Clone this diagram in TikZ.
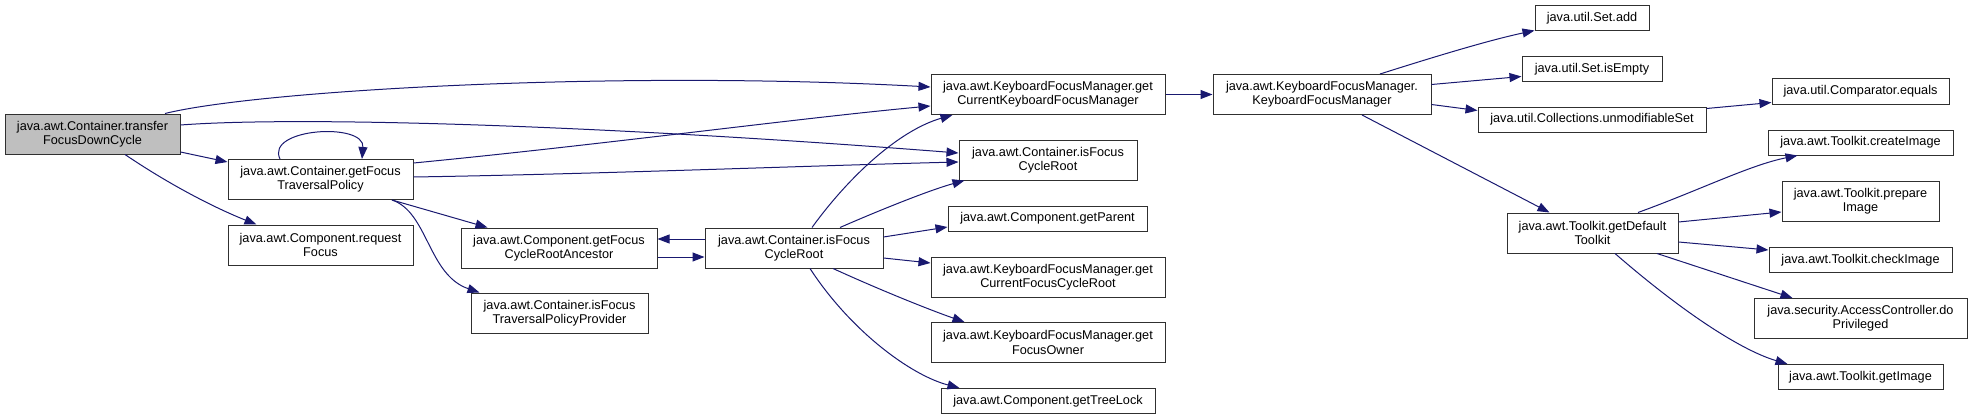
\documentclass[tikz,border=0pt]{standalone}
\usepackage{fontspec}
\newfontfamily\callfont{Liberation Sans}
\usetikzlibrary{arrows.meta,calc}
\definecolor{azulNoche}{HTML}{191970}
\definecolor{grisRaiz}{HTML}{BFBFBF}
\definecolor{bordeNodo}{HTML}{303030}

\begin{document}
\begin{tikzpicture}[x=1pt,y=-1pt,>={Triangle[length=12pt,width=9pt]},
    fn/.style={draw=bordeNodo,line width=1pt,fill=white,inner sep=0pt,
      minimum height=40,align=center,
      font=\callfont\fontsize{12.7}{14.3}\selectfont},
    fnone/.style={fn,minimum height=25},
    raiz/.style={fn,fill=grisRaiz},
    call/.style={azulNoche,line width=1pt,->}]
  \useasboundingbox (0,0) rectangle (1976,420);
  % nodes, column by column
  \node[raiz,minimum width=175] (tfdc) at (92.5,134)
    {java.awt.Container.transfer\\FocusDownCycle};
  \node[fn,minimum width=185] (gftp) at (320.5,179.5)
    {java.awt.Container.getFocus\\TraversalPolicy};
  \node[fn,minimum width=185] (rf) at (320.5,245)
    {java.awt.Component.request\\Focus};
  \node[fn,minimum width=196] (gfcra) at (559,248)
    {java.awt.Component.getFocus\\CycleRootAncestor};
  \node[fn,minimum width=177] (iftpp) at (559.5,313)
    {java.awt.Container.isFocus\\TraversalPolicyProvider};
  \node[fn,minimum width=178] (ifcr2) at (794,248)
    {java.awt.Container.isFocus\\CycleRoot};
  \node[fn,minimum width=234] (gckfm) at (1048,94.5)
    {java.awt.KeyboardFocusManager.get\\CurrentKeyboardFocusManager};
  \node[fn,minimum width=178] (ifcr1) at (1048,160)
    {java.awt.Container.isFocus\\CycleRoot};
  \node[fnone,minimum width=199] (gpar) at (1047.5,218.5)
    {java.awt.Component.getParent};
  \node[fn,minimum width=234] (gcfcr) at (1048,277)
    {java.awt.KeyboardFocusManager.get\\CurrentFocusCycleRoot};
  \node[fn,minimum width=234] (gfo) at (1048,342.5)
    {java.awt.KeyboardFocusManager.get\\FocusOwner};
  \node[fnone,minimum width=214] (gtl) at (1048,401)
    {java.awt.Component.getTreeLock};
  \node[fn,minimum width=218] (kfm) at (1322,94.5)
    {java.awt.KeyboardFocusManager.\\KeyboardFocusManager};
  \node[fnone,minimum width=114] (sadd) at (1592,18.5) {java.util.Set.add};
  \node[fnone,minimum width=140] (sempty) at (1592,69.5) {java.util.Set.isEmpty};
  \node[fnone,minimum width=228] (uset) at (1592,119.5)
    {java.util.Collections.unmodifiableSet};
  \node[fn,minimum width=171] (gdt) at (1592.5,233)
    {java.awt.Toolkit.getDefault\\Toolkit};
  \node[fnone,minimum width=177] (ceq) at (1860.5,91.5)
    {java.util.Comparator.equals};
  \node[fnone,minimum width=185] (cimg) at (1860.5,142.5)
    {java.awt.Toolkit.createImage};
  \node[fn,minimum width=157] (pimg) at (1860.5,201.5)
    {java.awt.Toolkit.prepare\\Image};
  \node[fnone,minimum width=183] (chimg) at (1860.5,260)
    {java.awt.Toolkit.checkImage};
  \node[fn,minimum width=213] (dopr) at (1860.5,318.5)
    {java.security.AccessController.do\\Privileged};
  \node[fnone,minimum width=165] (gimg) at (1860.5,377)
    {java.awt.Toolkit.getImage};
  % calls out of transferFocusDownCycle
  \draw[call] ($(tfdc.north)+(72.5,0)$) .. controls (260,90) and (620,70)
    .. ($(gckfm.west)+(0,-7.5)$);
  \draw[call] ($(tfdc.east)+(0,-9)$) .. controls (300,116) and (600,125)
    .. ($(ifcr1.west)+(0,-7)$);
  \draw[call] ($(tfdc.east)+(0,18)$) -- ($(gftp.west)+(0,-17.5)$);
  \draw[call] ($(tfdc.south)+(32.5,0)$) .. controls (170,185) and (215,208)
    .. ($(rf.north west)+(29,0)$);
  % getFocusTraversalPolicy
  \draw[call] ($(gftp.north)+(-40.5,0)$) .. controls (265,128) and (365,122)
    .. ($(gftp.north)+(41.5,0)$);
  \draw[call] ($(gftp.east)+(0,-16.5)$) .. controls (600,145) and (800,118)
    .. ($(gckfm.west)+(0,11.5)$);
  \draw[call] ($(gftp.east)+(0,-2.5)$) .. controls (600,174) and (800,166)
    .. ($(ifcr1.west)+(0,2)$);
  \draw[call] ($(gftp.south)+(71.5,0)$) -- ($(gfcra.north west)+(27,0)$);
  \draw[call] ($(gftp.south)+(71.5,0)$) .. controls (428,212) and (428,275)
    .. ($(iftpp.north west)+(9,0)$);
  % isFocusCycleRoot and its ancestor
  \draw[call] ($(ifcr2.west)+(0,-9)$) -- ($(gfcra.east)+(0,-9)$);
  \draw[call] ($(gfcra.east)+(0,9)$) -- ($(ifcr2.west)+(0,9)$);
  \draw[call] ($(ifcr2.north)+(18,0)$) .. controls (850,175) and (900,130)
    .. ($(gckfm.south west)+(22,0)$);
  \draw[call] ($(ifcr2.north)+(46,0)$) .. controls (880,210) and (930,190)
    .. ($(ifcr1.south west)+(6,0)$);
  \draw[call] ($(ifcr2.east)+(0,-11)$) -- ($(gpar.west)+(0,8.5)$);
  \draw[call] ($(ifcr2.east)+(0,10)$) -- ($(gcfcr.west)+(0,-14)$);
  \draw[call] ($(ifcr2.south)+(39,0)$) .. controls (880,290) and (930,310)
    .. ($(gfo.north west)+(34,0)$);
  \draw[call] ($(ifcr2.south)+(16,0)$) .. controls (850,330) and (910,375)
    .. ($(gtl.north west)+(19,0)$);
  % KeyboardFocusManager
  \draw[call] (gckfm) -- (kfm);
  \draw[call] ($(kfm.north)+(58,0)$) .. controls (1440,55) and (1490,40)
    .. ($(sadd.west)+(0,12)$);
  \draw[call] ($(kfm.east)+(0,-10)$) -- ($(sempty.west)+(0,7)$);
  \draw[call] ($(kfm.east)+(0,10)$) -- ($(uset.west)+(0,-9)$);
  \draw[call] ($(kfm.south)+(40,0)$) -- ($(gdt.north west)+(43,0)$);
  \draw[call] ($(uset.east)+(0,-11)$) -- ($(ceq.west)+(0,11)$);
  % Toolkit
  \draw[call] ($(gdt.north)+(45.5,0)$) .. controls (1700,190) and (1750,165)
    .. ($(cimg.south west)+(30,0)$);
  \draw[call] ($(gdt.east)+(0,-11)$) -- ($(pimg.west)+(0,10.5)$);
  \draw[call] ($(gdt.east)+(0,9)$) -- ($(chimg.west)+(0,-10)$);
  \draw[call] ($(gdt.south)+(64.5,0)$) -- ($(dopr.north west)+(39,0)$);
  \draw[call] ($(gdt.south)+(22.5,0)$) .. controls (1680,310) and (1740,350)
    .. ($(gimg.north west)+(10,0)$);
\end{tikzpicture}
\end{document}
